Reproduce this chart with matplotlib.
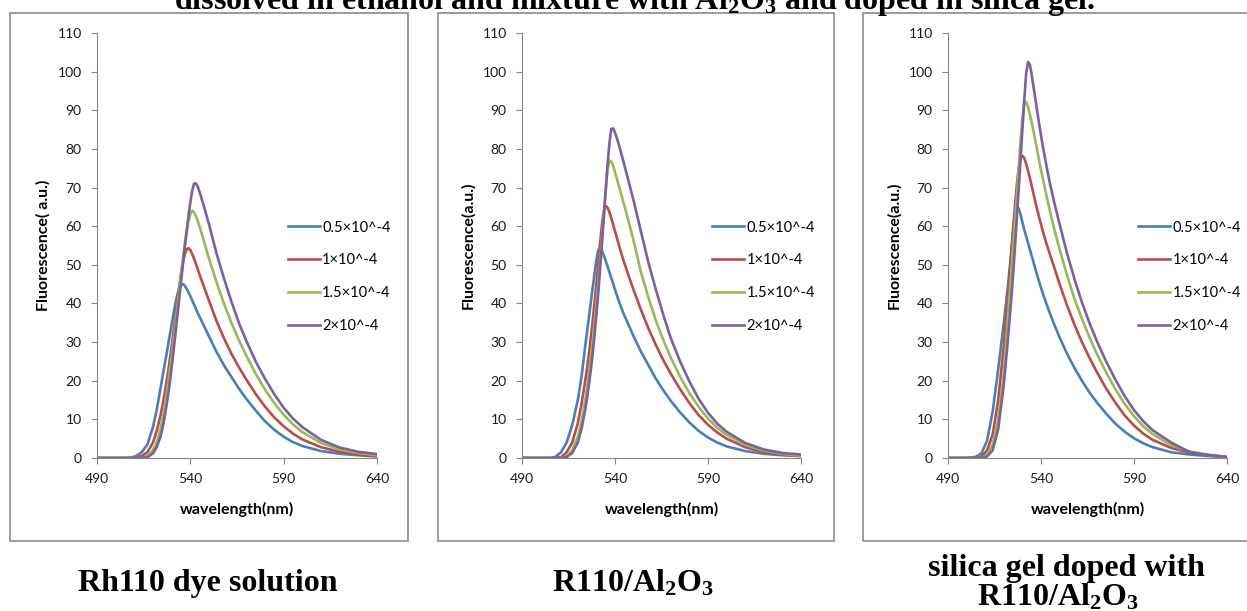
import matplotlib
matplotlib.use('Agg')
import matplotlib.pyplot as plt
from matplotlib.patches import Rectangle

plt.rcParams['font.family'] = ['Lato', 'DejaVu Sans']
plt.rcParams['mathtext.fontset'] = 'custom'
plt.rcParams['mathtext.rm'] = 'Liberation Serif:bold'
plt.rcParams['mathtext.default'] = 'rm'

# wavelength grid (nm) shared by all spectra, 1 nm steps around the peaks
wl = [490, 500, 505, 508, 511, 514, 517, 520, 522,
      524, 525, 526, 527, 528, 529, 530, 531, 532, 533, 534, 535,
      536, 537, 538, 539, 540, 541, 542, 543, 544, 545,
      547, 550, 554, 558, 562, 566, 570, 575, 580, 585, 590, 595, 600, 610, 620, 630, 640]

labels = ['0.5×10^-4', '1×10^-4', '1.5×10^-4', '2×10^-4']
colors = ['#4A7EBB', '#BE4B48', '#98B954', '#7D60A0']

# Rh110 dye solution
sol_05 = [0, 0, 0, 0.1, 0.5, 1.5, 3.5, 8, 12.5,
          18, 20.8, 23.5, 26.2, 29, 31.8, 34.5, 37.3, 40, 42.2, 43.9, 44.8,
          45, 44.6, 43.8, 42.9, 41.9, 40.8, 39.7, 38.6, 37.5, 36.5,
          34.5, 31.5, 27.5, 24, 21, 18, 15.3, 12.3, 9.5, 7.3, 5.5, 4.1, 3.1, 1.8, 1.1, 0.7, 0.4]
sol_1 = [0, 0, 0, 0, 0.1, 0.5, 1.5, 4, 7,
         11, 13.4, 16, 19, 22, 25.5, 29, 32.8, 36.5, 40.5, 44.2, 47.6,
         50.5, 52.7, 54, 54.3, 53.8, 52.8, 51.6, 50.2, 48.8, 47.4,
         44.7, 40.7, 35.5, 31, 27, 23.5, 20.3, 16.6, 13.3, 10.5, 8.2, 6.3, 4.8, 2.8, 1.6, 0.9, 0.5]
sol_15 = [0, 0, 0, 0, 0, 0, 0.5, 2, 4,
          7.5, 9.8, 12.5, 15.6, 19, 22.7, 26.5, 30.5, 34.5, 38.8, 43, 47.3,
          51.5, 55.3, 58.6, 61.3, 63.2, 64, 63.6, 62.6, 61.3, 59.8,
          56.6, 51.6, 45.5, 40, 35, 30.5, 26.5, 21.8, 17.7, 14.2, 11.2, 8.7, 6.7, 3.9, 2.2, 1.3, 0.7]
sol_2 = [0, 0, 0, 0, 0, 0, 0.2, 1.2, 2.8,
         5.5, 7.5, 10, 12.8, 16, 19.6, 23.5, 27.7, 32, 36.5, 41, 45.5,
         50, 54.4, 58.6, 62.6, 66.2, 69.2, 71, 71.1, 70.2, 68.8,
         65.6, 60.5, 53, 46.5, 40.5, 35, 30.3, 25, 20.5, 16.5, 13, 10.2, 8, 4.7, 2.7, 1.6, 1.0]

# R110/Al2O3
al_05 = [0, 0, 0, 0.3, 1.5, 4, 8.5, 15, 21,
         29, 32.8, 36.5, 40.3, 44, 47.7, 51.2, 53.8, 54.3, 53.6, 52.4, 51,
         49.6, 48.1, 46.6, 45.1, 43.6, 42.1, 40.7, 39.4, 38.1, 36.9,
         34.8, 31.5, 27.5, 24, 20.5, 17.5, 14.8, 11.8, 9.2, 7.0, 5.3, 4.0, 3.0, 1.8, 1.1, 0.7, 0.5]
al_1 = [0, 0, 0, 0, 0.2, 1.5, 4, 9, 14,
        20, 23.3, 27, 31.1, 35.5, 40.2, 45, 50.3, 55.6, 60.5, 64, 65.2,
        64.8, 63.6, 62.1, 60.4, 58.7, 57, 55.3, 53.6, 52, 50.5,
        47.6, 43.5, 38.3, 33.5, 29.2, 25.3, 21.8, 17.8, 14.2, 11.1, 8.6, 6.6, 5.0, 2.8, 1.5, 0.9, 0.5]
al_15 = [0, 0, 0, 0, 0, 0.5, 2, 5.5, 9.5,
         15, 18.3, 22, 26, 30.2, 35, 40, 45.3, 51, 57, 63.3, 69.5,
         74.8, 77, 76.7, 75.6, 74, 72.3, 70.6, 68.9, 67.1, 65.3,
         61.8, 56.2, 48, 41.5, 35.5, 30.5, 26, 21, 16.8, 13.2, 10.2, 7.8, 6.0, 3.4, 1.9, 1.1, 0.6]
al_2 = [0, 0, 0, 0, 0, 0.2, 1.3, 4, 7.5,
        12.5, 15.5, 19, 22.8, 27, 31.8, 37, 42.7, 49, 55.6, 62.3, 69.2,
        75.9, 81.6, 85.2, 85.3, 84.2, 82.8, 81.2, 79.5, 77.7, 75.9,
        72.2, 66.6, 58.5, 50.5, 43.5, 37, 31, 25, 19.8, 15.3, 11.7, 8.9, 6.8, 3.9, 2.2, 1.3, 0.9]

# silica gel doped with R110/Al2O3
gel_05 = [0, 0, 0.3, 1.2, 4.5, 12, 23, 35, 43.5,
          53, 58.5, 63, 65.1, 64.6, 63, 61, 59.1, 57.4, 55.7, 54, 52.3,
          50.6, 48.9, 47.2, 45.6, 44.1, 42.6, 41.2, 39.8, 38.5, 37.2,
          34.7, 31.2, 27, 23.3, 20, 17, 14.4, 11.5, 8.9, 6.8, 5.1, 3.8, 2.8, 1.5, 0.9, 0.5, 0.2]
gel_1 = [0, 0, 0, 0.3, 2, 6, 15, 29, 40.5,
         53, 59.3, 65.3, 70.7, 75, 77.6, 78.2, 77.6, 76.2, 74.4, 72.5, 70.4,
         68.3, 66.2, 64.2, 62.3, 60.5, 58.7, 57, 55.4, 53.9, 52.4,
         49.5, 45, 39.5, 34.5, 30, 26, 22.3, 18, 14.3, 11, 8.4, 6.3, 4.7, 2.6, 1.4, 0.7, 0.2]
gel_15 = [0, 0, 0, 0.1, 0.8, 3.5, 10, 22, 35,
          48, 54.5, 61, 67.8, 75, 82, 88, 91.8, 92.2, 90.9, 89, 86.8,
          84.5, 82, 79.5, 77, 74.6, 72.3, 70, 67.8, 65.6, 63.5,
          59.5, 54, 47.3, 41.2, 36, 31.3, 27, 22.2, 17.8, 14, 10.8, 8.2, 6.2, 3.3, 1.7, 0.8, 0.3]
gel_2 = [0, 0, 0, 0.1, 0.4, 2, 7.5, 19, 29.5,
         41, 47.5, 54.5, 62, 69.5, 77.3, 85, 92.5, 99.5, 102.5, 101.8, 99.2,
         96, 92.8, 89.6, 86.5, 83.5, 80.7, 78, 75.5, 73, 70.6,
         66.4, 60.5, 53, 46.3, 40.3, 35, 30.3, 25, 20.3, 16, 12.4, 9.5, 7.2, 4, 1.5, 0.8, 0.3]

ylabels = ['Fluorescence( a.u.)', 'Fluorescence(a.u.)', 'Fluorescence(a.u.)']
panels = [
    ([sol_05, sol_1, sol_15, sol_2], 97, 377),
    ([al_05, al_1, al_15, al_2], 522, 801),
    ([gel_05, gel_1, gel_15, gel_2], 948, 1227),
]
boxes = [(10, 408), (438, 834), (863, 1262)]

W, H = 1247, 611
fig = plt.figure(figsize=(W / 100, H / 100), dpi=100)

grey = '#868686'
for (x0, x1) in boxes:
    fig.add_artist(Rectangle((x0 / W, 1 - 541 / H), (x1 - x0) / W, 528 / H,
                             transform=fig.transFigure, fill=False, ec='#8a8a8a', lw=1.2))

for (series, left, right), ylab in zip(panels, ylabels):
    ax = fig.add_axes([left / W, 1 - 458 / H, (right - left) / W, 425 / H])
    for ys, c, lab in zip(series, colors, labels):
        ax.plot(wl, ys, color=c, lw=1.9, label=lab)
    ax.set_xlim(490, 640)
    ax.set_ylim(0, 110)
    ax.set_xticks([490, 540, 590, 640])
    ax.set_yticks(range(0, 111, 10))
    for s in ['top', 'right']:
        ax.spines[s].set_visible(False)
    for s in ['left', 'bottom']:
        ax.spines[s].set_color(grey)
        ax.spines[s].set_linewidth(0.8)
    ax.tick_params(direction='out', length=4.5, width=0.8, color=grey,
                   labelsize=10, labelcolor='#1a1a1a', pad=6.5)
    ax.text(-0.193, 0.5, ylab, transform=ax.transAxes, rotation=90,
            ha='center', va='center', fontsize=11.5, fontweight='bold')
    ax.text(0.5, -0.12, 'wavelength(nm)', transform=ax.transAxes,
            ha='center', va='center', fontsize=11.5, fontweight='bold')
    ax.legend(loc='center left', bbox_to_anchor=(0.681, 0.426), frameon=False,
              borderaxespad=0, borderpad=0, handlelength=2.2, handletextpad=0.17,
              labelspacing=1.3, fontsize=10.5)

serif = dict(family='Liberation Serif', fontweight='bold', fontsize=23, ha='center', va='baseline')
fig.text(635 / W, 1 - 9 / H,
         'dissolved in ethanol and mixture with Al$_2$O$_3$ and doped in silica gel.', **serif)
fig.text(208 / W, 1 - 591 / H, 'Rh110 dye solution', **serif)
fig.text(633 / W, 1 - 591 / H, 'R110/Al$_2$O$_3$', **serif)
fig.text(1066 / W, 1 - 576 / H, 'silica gel doped with', **serif)
fig.text(1058 / W, 1 - 606 / H, 'R110/Al$_2$O$_3$', **serif)

fig.savefig('out.png', dpi=100)
